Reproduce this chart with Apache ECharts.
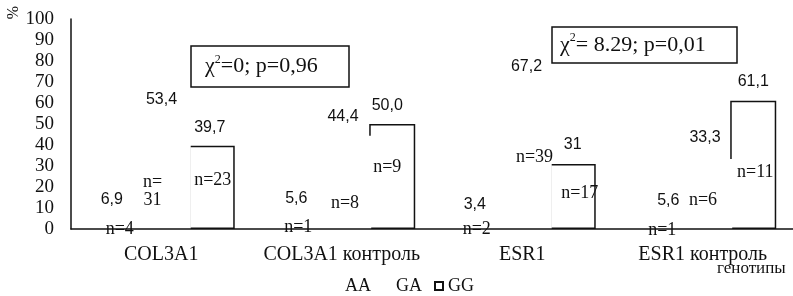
<!DOCTYPE html>
<html>
<head>
<meta charset="utf-8">
<script src="https://cdn.jsdelivr.net/npm/echarts@6/dist/echarts.min.js"></script>
<style>
  html, body { margin: 0; background: #fff; }
  #chart { width: 793px; height: 296px; }
</style>
</head>
<body>
<div id="chart"></div>
<script>
const categories = ['COL3A1', 'COL3A1 контроль', 'ESR1', 'ESR1 контроль']
const aaValues = [6.9, 5.6, 3.4, 5.6]
const gaValues = [53.4, 44.4, 67.2, 33.3]
const ggValues = [39.7, 50.0, 31, 61.1]
const aaLabels = ['6,9', '5,6', '3,4', '5,6']
const gaLabels = ['53,4', '44,4', '67,2', '33,3']
const ggLabels = ['39,7', '50,0', '31', '61,1']
const aaCounts = [4, 1, 2, 1]
const gaCounts = [31, 8, 39, 6]
const ggCounts = [23, 9, 17, 11]
const chiTexts = ['=0; p=0,96', '= 8.29; p=0,01']

const ink = '#111'
const serif = '"Liberation Serif", "DejaVu Serif", serif'
const sans = '"Liberation Sans", Arial, sans-serif'

// bar widths per genotype; the white GA bar overlaps the GG outline on the left
const barWidths = [46, 58.5, 46]
const barZ = [5, 4, 2]

// where the printed labels sit relative to their bars in the scan
const valueShift = [
  [[1, 3], [5, -1], [3, 1], [16, 1]],
  [[0, 1], [1, -1], [4, -3], [2, -3]],
  [[-2, 0], [-5, 0], [0, -1], [0, -1]]
]
const countShift = [
  [[9, 9], [7, 7], [5, 9], [10, 10]],
  [[-9, -20], [3, -17], [12, -63], [0, -20]],
  [[1, -40], [-5, -53], [7, -27], [2, -48]]
]

const groups = [
  { name: 'AA', values: aaValues, labels: aaLabels, counts: aaCounts },
  { name: 'GA', values: gaValues, labels: gaLabels, counts: gaCounts },
  { name: 'GG', values: ggValues, labels: ggLabels, counts: ggCounts }
]

const barSeries = groups.map((g, gi) => ({
  name: g.name,
  type: 'bar',
  barWidth: barWidths[gi],
  barGap: '-3.4%',
  z: barZ[gi],
  itemStyle: gi === 2
    ? { color: '#fff', borderColor: ink, borderWidth: 1.5 }
    : { color: '#fff' },
  label: {
    show: true, position: 'top', distance: 10,
    fontFamily: sans, fontSize: 16, lineHeight: 16, color: ink,
    formatter: p => g.labels[p.dataIndex]
  },
  data: g.values.map((v, i) => ({ value: v, label: { offset: valueShift[gi][i] } }))
}))

const countSeries = groups.map((g, gi) => ({
  name: 'n ' + g.name,
  type: 'bar',
  xAxisIndex: 1,
  barWidth: barWidths[gi],
  barGap: '-3.4%',
  z: 6,
  silent: true,
  itemStyle: { color: 'transparent' },
  label: {
    show: true, position: 'insideBottom', distance: 0,
    fontFamily: serif, fontSize: 18, lineHeight: 18, color: ink,
    formatter: p => (gi === 1 && p.dataIndex === 0)
      ? 'n=\n' + g.counts[p.dataIndex]
      : 'n=' + g.counts[p.dataIndex]
  },
  data: g.values.map((v, i) => ({ value: v, label: { offset: countShift[gi][i] } }))
}))

const chiBox = (x, y, w, h, tx, text) => ({
  type: 'group',
  children: [
    { type: 'rect', shape: { x: x, y: y, width: w, height: h },
      style: { fill: '#fff', stroke: ink, lineWidth: 1.5 } },
    { type: 'text', x: tx, y: y + h / 2,
      style: {
        text: '{a|χ}{s|2}{a|' + text + '}',
        verticalAlign: 'middle',
        rich: {
          a: { fontFamily: serif, fontSize: 22, lineHeight: 26, fill: ink },
          s: { fontFamily: serif, fontSize: 12, lineHeight: 26, verticalAlign: 'top', fill: ink }
        }
      } }
  ]
})

const chart = echarts.init(document.getElementById('chart'))
chart.setOption({
  backgroundColor: '#fff',
  animation: false,
  grid: { left: 71, right: 0, top: 19, bottom: 67 },
  legend: {
    data: ['AA', 'GA', 'GG'],
    left: 327, top: 272,
    icon: 'rect', itemWidth: 8, itemHeight: 8, itemGap: 12,
    textStyle: { fontFamily: serif, fontSize: 18, color: ink }
  },
  xAxis: [
    {
      type: 'category', data: categories, z: 10,
      axisLine: { lineStyle: { color: ink, width: 1.5 } },
      axisTick: { show: false },
      axisLabel: { interval: 0, fontFamily: serif, fontSize: 20, color: ink, margin: 16 }
    },
    { type: 'category', data: categories, show: false }
  ],
  yAxis: {
    type: 'value', min: 0, max: 100, interval: 10,
    axisLine: { show: true, lineStyle: { color: ink, width: 1.5 } },
    axisTick: { show: false },
    splitLine: { show: false },
    axisLabel: { fontFamily: serif, fontSize: 19, color: ink, margin: 17 }
  },
  graphic: [
    chiBox(191, 46, 158, 41, 205, chiTexts[0]),
    chiBox(552, 27, 185, 36, 560, chiTexts[1]),
    { type: 'text', x: 19, y: 6, rotation: -Math.PI / 2,
      style: { text: '%', fontFamily: serif, fontSize: 16, fill: ink } },
    { type: 'text', x: 717, y: 269,
      style: { text: 'генотипы', fontFamily: serif, fontSize: 17, fill: ink, verticalAlign: 'middle' } }
  ],
  series: barSeries.concat(countSeries)
})
</script>
</body>
</html>
